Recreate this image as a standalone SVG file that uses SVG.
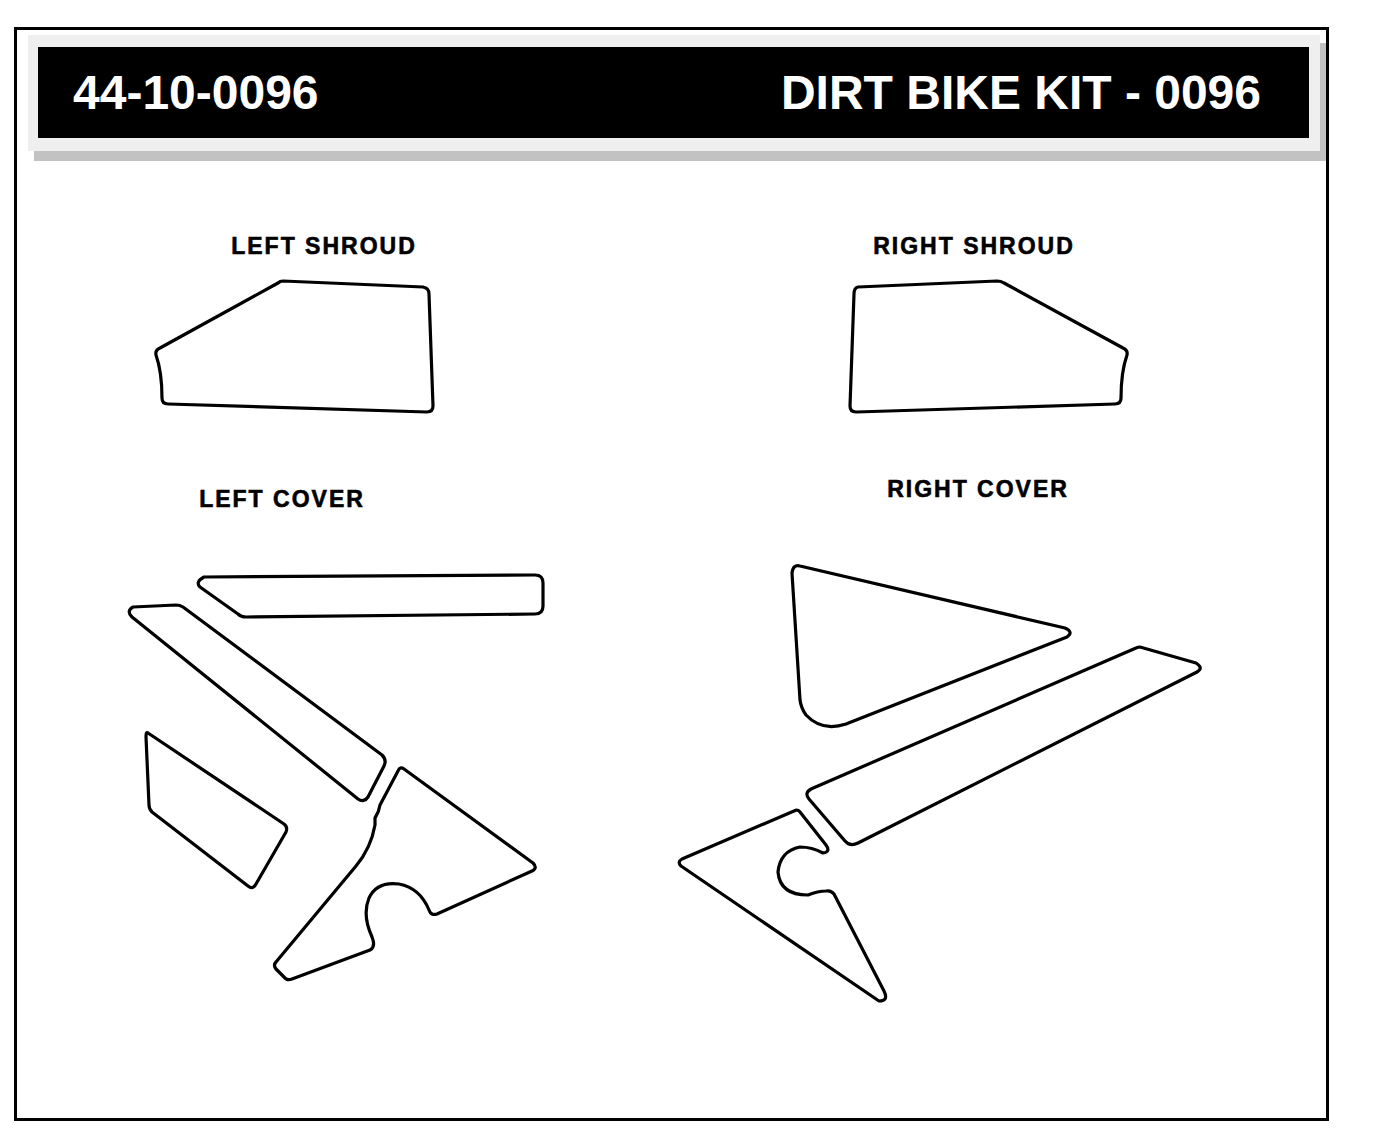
<svg xmlns="http://www.w3.org/2000/svg" width="1379" height="1148" viewBox="0 0 1379 1148">
<style>
.p{fill:none;stroke:#000;stroke-width:3.2;stroke-linejoin:round;stroke-linecap:round}
.l{font-family:"Liberation Sans",Arial,sans-serif;font-weight:bold;font-size:23px;letter-spacing:2px;text-anchor:middle;stroke:#000;stroke-width:0.6}
.h{font-family:"Liberation Sans",Arial,sans-serif;font-weight:bold;font-size:48px;fill:#fff}
</style>
<rect x="0" y="0" width="1379" height="1148" fill="#fff"/>
<rect x="15.5" y="28.5" width="1312" height="1091" fill="none" stroke="#000" stroke-width="3"/>
<rect x="34" y="43" width="1292" height="118" fill="#c2c2c2"/>
<rect x="28" y="35" width="1292" height="116" fill="#efefef"/>
<rect x="38" y="47" width="1271" height="91" fill="#000"/>
<text class="h" x="73" y="109">44-10-0096</text>
<text class="h" x="1261" y="109" text-anchor="end">DIRT BIKE KIT - 0096</text>
<text class="l" x="324" y="254">LEFT SHROUD</text>
<text class="l" x="974" y="254">RIGHT SHROUD</text>
<text class="l" x="282" y="507">LEFT COVER</text>
<text class="l" x="978" y="497">RIGHT COVER</text>
<g id="left-shroud"><path class="p" d="M283 281 L423 287 Q429 288 429 294 L433 406 Q433 412 427 412 L168 404 Q162 404 162 398 Q162 372 156 355 Q155 350 160 348 L278 283 Q280 281 283 281 Z"/></g>
<g id="right-shroud"><path class="p" d="M997 281 L858 287 Q854 288 854 294 L850 406 Q850 412 856 412 L1115 404 Q1121 404 1121 398 Q1121 372 1127 355 Q1128 350 1123 348 L1004 283 Q1001 281 997 281 Z"/></g>
<g id="left-cover">
<path class="p" d="M204 577 L535 575 Q543 575 543 583 L543 606 Q543 614 535 614 L246 617 Q241 617 238 614 L200 587 Q195 582 204 577 Z"/>
<path class="p" d="M133 607 L176 605 Q180 605 183 607 L382 755 Q387 760 384 766 L368 797 Q364 803 358 799 L132 617 Q126 611 133 607 Z"/>
<path class="p" d="M148 733 L284 824 Q288 827 286 832 L256 884 Q253 890 248 886 L152 812 Q149 809 149 805 L146 737 Q146 731 148 733 Z"/>
<path class="p" d="M404 769 L533 863 Q538 868 532 871 L437 914 Q431 916 429 910 Q420 888 399 884 Q377 881 369 898 Q362 915 372 937 Q376 947 370 950 L292 979 Q287 981 284 977 L276 969 Q273 965 276 962 L356 866 Q371 848 375 825 L375 818 Q379 812 380 805 L398 771 Q400 766 404 769 Z"/>
</g>
<g id="right-cover">
<path class="p" d="M800 566 L1065 628 Q1074 632 1067 637 L846 724 Q822 732 806 715 Q801 708 800 700 L792 573 Q793 564 800 566 Z"/>
<path class="p" d="M1140 647 L1196 663 Q1204 668 1197 672 L858 843 Q850 847 845 841 L809 799 Q804 793 811 789 L1136 648 Q1138 647 1140 647 Z"/>
<path class="p" d="M794 811 Q798 809 800 812 L826 845 Q831 852 823 853 Q812 847 800 847 Q780 851 778 872 Q780 895 808 895 Q818 891 826 891 Q831 890 834 894 L884 991 Q889 1001 879 1001 L681 866 Q677 862 682 859 Z"/>
</g>
</svg>
